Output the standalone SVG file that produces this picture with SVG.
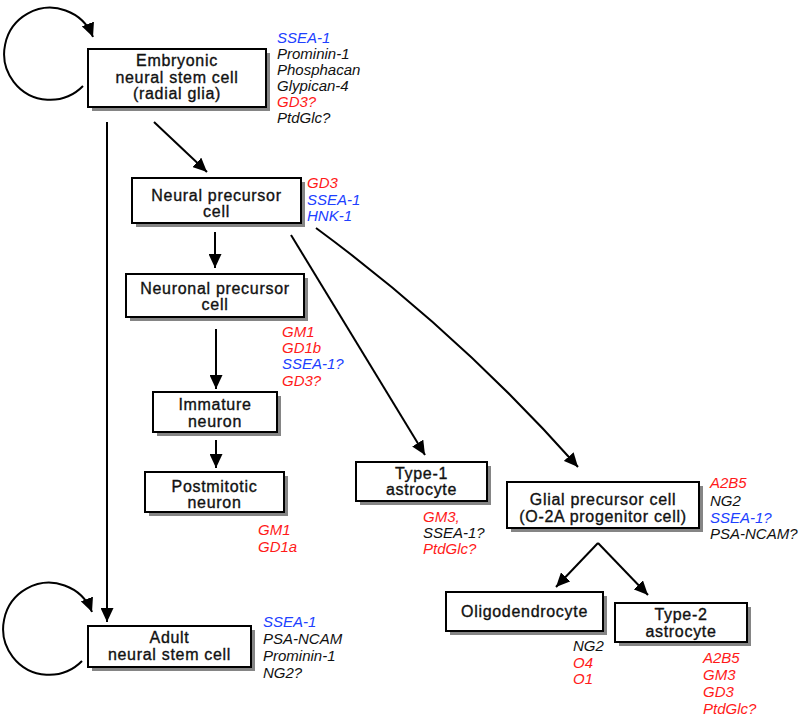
<svg xmlns="http://www.w3.org/2000/svg" width="800" height="719" viewBox="0 0 800 719">
<defs>
<marker id="ah" markerUnits="userSpaceOnUse" viewBox="0 0 14 13" markerWidth="14" markerHeight="13" refX="14" refY="6.5" orient="auto">
<path d="M0,0 L14,6.5 L0,13 z" fill="#000"/>
</marker>
</defs>
<style>
.box{fill:#fff;stroke:#000;stroke-width:2}
.sh{fill:#858585}
.lbl{font-family:"Liberation Sans",Arial,sans-serif;font-size:16px;letter-spacing:0.7px;fill:#111;stroke:#111;stroke-width:0.35px;text-anchor:middle}
.mk{font-family:"Liberation Sans",Arial,sans-serif;font-size:15px;font-style:italic}
.k{fill:#111}.r{fill:#ff1a1a}.b{fill:#2040ff}
.con{fill:none;stroke:#000;stroke-width:2;marker-end:url(#ah)}
</style>
<rect width="800" height="719" fill="#fff"/>
<g id="connectors">
<path class="con" d="M 83 86 A 46 46 0 1 1 93 37"/>
<path class="con" d="M 82 661 A 46 46 0 1 1 92 612"/>
<path class="con" d="M 107 122 L 107 622"/>
<path class="con" d="M 154 122 L 207 172"/>
<path class="con" d="M 215 232 L 215 268"/>
<path class="con" d="M 216 329 L 216 389"/>
<path class="con" d="M 216 440 L 216 468"/>
<path class="con" d="M 291 235 L 425 455"/>
<path class="con" d="M 316 228 Q 460 334 578 467"/>
<path class="con" d="M 598 543 L 556 587"/>
<path class="con" d="M 598 543 L 648 595"/>
</g>
<g id="embryonic">
<rect class="sh" x="92" y="53" width="178" height="58"/>
<rect class="box" x="88" y="49" width="178" height="58"/>
<text class="lbl" x="177" y="66">Embryonic</text>
<text class="lbl" x="177" y="83">neural stem cell</text>
<text class="lbl" x="177" y="99">(radial glia)</text>
<text class="mk"><tspan class="b" y="43" x="277">SSEA-1</tspan><tspan class="k" y="59" x="277">Prominin-1</tspan><tspan class="k" y="75" x="277">Phosphacan</tspan><tspan class="k" y="91" x="277">Glypican-4</tspan><tspan class="r" y="107" x="277">GD3?</tspan><tspan class="k" y="123" x="277">PtdGlc?</tspan></text>
</g>
<g id="neural-precursor">
<rect class="sh" x="136" y="182" width="169" height="45"/>
<rect class="box" x="132" y="178" width="169" height="45"/>
<text class="lbl" x="216.5" y="201">Neural precursor</text>
<text class="lbl" x="216.5" y="217">cell</text>
<text class="mk"><tspan class="r" x="307" y="188">GD3</tspan><tspan class="b" x="307" y="204.5">SSEA-1</tspan><tspan class="b" x="307" y="221">HNK-1</tspan></text>
</g>
<g id="neuronal-precursor">
<rect class="sh" x="130" y="278" width="178" height="43"/>
<rect class="box" x="126" y="274" width="178" height="43"/>
<text class="lbl" x="215" y="294">Neuronal precursor</text>
<text class="lbl" x="215" y="310">cell</text>
<text class="mk"><tspan class="r" x="282" y="337">GM1</tspan><tspan class="r" x="282" y="353">GD1b</tspan><tspan class="b" x="282" y="369">SSEA-1?</tspan><tspan class="r" x="282" y="386">GD3?</tspan></text>
</g>
<g id="immature-neuron">
<rect class="sh" x="157" y="396" width="124" height="40"/>
<rect class="box" x="153" y="392" width="124" height="40"/>
<text class="lbl" x="215" y="410">Immature</text>
<text class="lbl" x="215" y="427">neuron</text>
</g>
<g id="postmitotic-neuron">
<rect class="sh" x="149" y="476" width="139" height="40"/>
<rect class="box" x="145" y="472" width="139" height="40"/>
<text class="lbl" x="214.5" y="492">Postmitotic</text>
<text class="lbl" x="214.5" y="508">neuron</text>
<text class="mk"><tspan class="r" x="258" y="535">GM1</tspan><tspan class="r" x="258" y="552">GD1a</tspan></text>
</g>
<g id="type1-astrocyte">
<rect class="sh" x="360" y="466" width="131" height="39"/>
<rect class="box" x="356" y="462" width="131" height="39"/>
<text class="lbl" x="421.5" y="479">Type-1</text>
<text class="lbl" x="421.5" y="495">astrocyte</text>
<text class="mk"><tspan class="r" x="423" y="522">GM3,</tspan><tspan class="k" x="423" y="538">SSEA-1?</tspan><tspan class="r" x="423" y="554">PtdGlc?</tspan></text>
</g>
<g id="glial-precursor">
<rect class="sh" x="511" y="486" width="192" height="46"/>
<rect class="box" x="507" y="482" width="192" height="46"/>
<text class="lbl" x="603" y="505">Glial precursor cell</text>
<text class="lbl" x="603" y="522">(O-2A progenitor cell)</text>
<text class="mk"><tspan class="r" x="710" y="488">A2B5</tspan><tspan class="k" x="710" y="506">NG2</tspan><tspan class="b" x="710" y="523">SSEA-1?</tspan><tspan class="k" x="710" y="539">PSA-NCAM?</tspan></text>
</g>
<g id="oligodendrocyte">
<rect class="sh" x="450" y="596" width="157" height="39"/>
<rect class="box" x="446" y="592" width="157" height="39"/>
<text class="lbl" x="524.5" y="617">Oligodendrocyte</text>
<text class="mk"><tspan class="k" x="573" y="651">NG2</tspan><tspan class="r" x="573" y="667.5">O4</tspan><tspan class="r" x="573" y="684">O1</tspan></text>
</g>
<g id="type2-astrocyte">
<rect class="sh" x="619" y="607" width="132" height="39"/>
<rect class="box" x="615" y="603" width="132" height="39"/>
<text class="lbl" x="681" y="620">Type-2</text>
<text class="lbl" x="681" y="637">astrocyte</text>
<text class="mk"><tspan class="r" x="703" y="663">A2B5</tspan><tspan class="r" x="703" y="680">GM3</tspan><tspan class="r" x="703" y="697">GD3</tspan><tspan class="r" x="703" y="714">PtdGlc?</tspan></text>
</g>
<g id="adult">
<rect class="sh" x="92" y="630" width="163" height="41"/>
<rect class="box" x="88" y="626" width="163" height="41"/>
<text class="lbl" x="169.5" y="643">Adult</text>
<text class="lbl" x="169.5" y="660">neural stem cell</text>
<text class="mk"><tspan class="b" x="263" y="627">SSEA-1</tspan><tspan class="k" x="263" y="644">PSA-NCAM</tspan><tspan class="k" x="263" y="661">Prominin-1</tspan><tspan class="k" x="263" y="678">NG2?</tspan></text>
</g>
</svg>
